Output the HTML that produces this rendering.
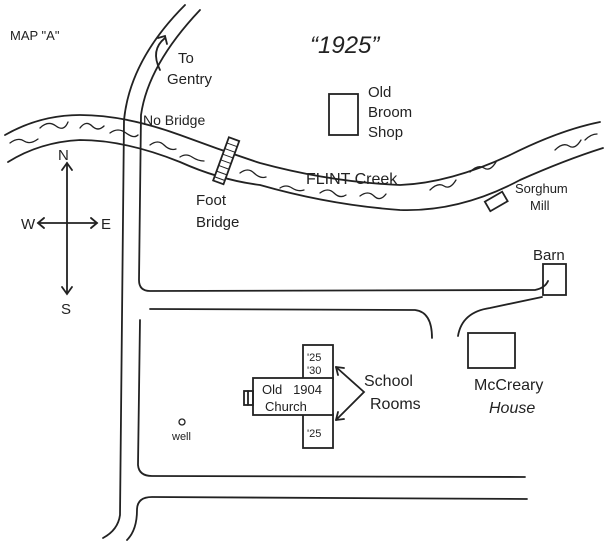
<!DOCTYPE html>
<html><head><style>
body{margin:0;background:#fff;}
svg{display:block;}
text{font-family:"Liberation Sans",sans-serif;fill:#222;}
</style></head><body>
<svg width="612" height="541" viewBox="0 0 612 541" xmlns="http://www.w3.org/2000/svg">
<g fill="none" stroke="#222" stroke-width="1.8" stroke-linecap="round">
<!-- main road -->
<path d="M185 5 Q130 60 124 120 L120 515 Q118 530 103 538"/>
<path d="M200 10 Q148 65 141 115 L139 280 Q139 291 150 291 L535 290 Q545 288 548 281"/>
<!-- block -->
<path d="M150 309 L415 310 Q432 312 432 338"/>
<path d="M458 336 Q462 312 490 308 L542 297"/>
<path d="M140 320 L138 465 Q139 476 152 476 L525 477"/>
<path d="M127 540 Q137 530 137 510 Q137 497 152 497 L527 499"/>
<!-- creek -->
<path d="M5 135 Q40 115 80 115 Q125 115 180 135 Q220 150 260 163 Q330 182 400 185 Q450 183 510 155 Q560 130 600 122"/>
<path d="M8 162 Q40 142 80 140 Q125 140 180 162 Q220 180 260 185 Q330 205 400 210 Q460 212 520 180 Q565 160 603 148"/>
<g stroke-width="1.3">
<path d="M10 143 q8 -6 14 -2 t14 -2"/><path d="M40 128 q8 -8 16 -2 t12 -4"/><path d="M80 128 q6 -8 12 -2 t12 0"/>
<path d="M110 133 q8 -6 16 0 t12 2"/><path d="M150 145 q8 -6 14 0 t12 4"/><path d="M180 157 q6 -4 12 0 t12 4"/>
<path d="M240 173 q8 -6 14 0 t12 4"/><path d="M280 188 q6 -4 12 0 t12 2"/><path d="M320 193 q8 -6 14 0 t12 2"/>
<path d="M360 196 q8 -6 14 0 t12 -2"/><path d="M430 190 q8 -8 14 -4 t12 -6"/><path d="M470 172 q8 -8 14 -4 t12 -6"/>
<path d="M555 150 q8 -8 14 -4 t12 -6"/><path d="M585 140 q6 -6 12 -6"/>
</g>
<!-- bridge -->
<g transform="rotate(20 227 160)">
<rect x="221" y="138" width="11" height="46" fill="#fff"/>
<path d="M221 144h11M221 150h11M221 156h11M221 162h11M221 168h11M221 174h11M221 180h11" stroke-width="1"/>
</g>
<!-- gentry arrow -->
<path d="M160 70 Q150 50 165 38"/><path d="M158 38 L165 36 L167 44"/>
<!-- buildings -->
<rect x="329" y="94" width="29" height="41"/>
<rect x="543" y="264" width="23" height="31"/>
<rect x="468" y="333" width="47" height="35"/>
<rect x="486" y="196" width="20" height="11" transform="rotate(-30 496 201)"/>
<!-- church -->
<rect x="303" y="345" width="30" height="34"/>
<rect x="303" y="414" width="30" height="34"/>
<rect x="253" y="378" width="80" height="37" fill="#fff"/>
<rect x="244" y="391" width="9" height="14"/><path d="M248 391v14"/>
<!-- school arrows -->
<path d="M336 367 L364 392 L336 420"/>
<path d="M336 367 l2 8 M336 367 l8 1 M336 420 l8 -1 M336 420 l2 -8"/>
<!-- compass -->
<path d="M67 163 L67 293 M38 223 L97 223"/>
<path d="M62 170 l5 -7 l5 7 M62 287 l5 7 l5 -7 M44 218 l-6 5 l6 5 M91 218 l6 5 l-6 5"/>
<circle cx="182" cy="422" r="3" stroke-width="1.3"/>
</g>
<g font-size="15">
<text x="10" y="40" font-size="13">MAP "A"</text>
<text x="310" y="53" font-size="24" font-style="italic">“1925”</text>
<text x="178" y="63">To</text>
<text x="167" y="84">Gentry</text>
<text x="143" y="125" font-size="14">No Bridge</text>
<text x="368" y="97">Old</text>
<text x="368" y="117">Broom</text>
<text x="368" y="137">Shop</text>
<text x="306" y="184" font-size="16">FLINT Creek</text>
<text x="515" y="193" font-size="13">Sorghum</text>
<text x="530" y="210" font-size="13">Mill</text>
<text x="196" y="205">Foot</text>
<text x="196" y="227">Bridge</text>
<text x="58" y="160">N</text>
<text x="21" y="229">W</text>
<text x="101" y="229">E</text>
<text x="61" y="314">S</text>
<text x="533" y="260">Barn</text>
<text x="474" y="390" font-size="16">McCreary</text>
<text x="489" y="413" font-size="16" font-style="italic">House</text>
<text x="364" y="386" font-size="16">School</text>
<text x="370" y="409" font-size="16">Rooms</text>
<text x="307" y="361" font-size="11">'25</text>
<text x="307" y="374" font-size="11">'30</text>
<text x="307" y="437" font-size="11">'25</text>
<text x="262" y="394" font-size="13">Old&#160;&#160;&#160;1904</text>
<text x="265" y="411" font-size="13">Church</text>
<text x="172" y="440" font-size="11">well</text>
</g>
</svg>
</body></html>
